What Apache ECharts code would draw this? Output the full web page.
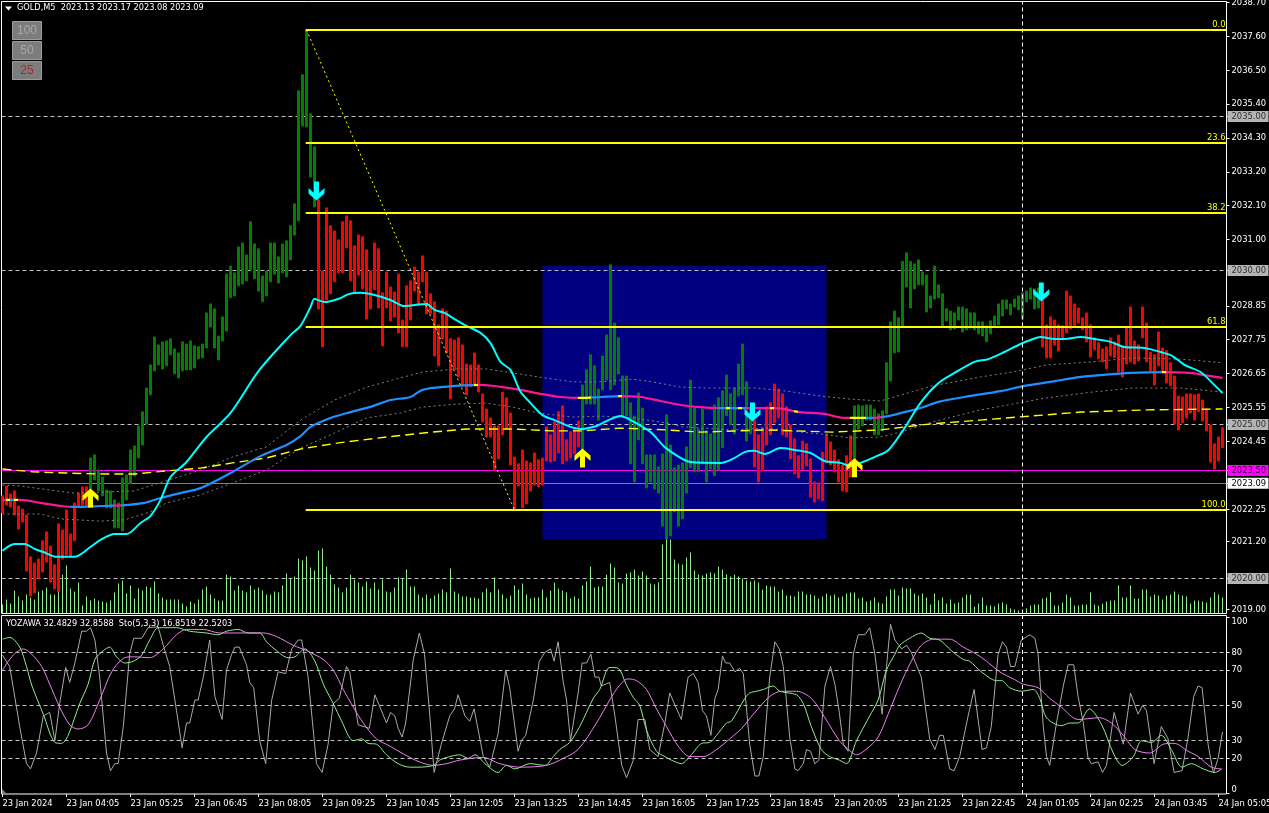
<!DOCTYPE html>
<html><head><meta charset="utf-8">
<style>html,body{margin:0;padding:0;background:#000}#c{width:1269px;height:813px}</style>
<script src="https://cdn.jsdelivr.net/npm/echarts@6/dist/echarts.min.js"></script></head>
<body><div id="c"></div><script>
const timeLabels=["23 Jan 2024","23 Jan 04:05","23 Jan 05:25","23 Jan 06:45","23 Jan 08:05","23 Jan 09:25","23 Jan 10:45","23 Jan 12:05","23 Jan 13:25","23 Jan 14:45","23 Jan 16:05","23 Jan 17:25","23 Jan 18:45","23 Jan 20:05","23 Jan 21:25","23 Jan 22:45","24 Jan 01:05","24 Jan 02:25","24 Jan 03:45","24 Jan 05:05"];
const priceTicks=[2038.70,2037.60,2036.50,2035.40,2035.00,2034.30,2033.20,2032.10,2031.00,2030.00,2028.85,2027.75,2026.65,2025.55,2025.00,2024.45,2023.50,2023.09,2022.25,2021.20,2020.00,2019.00];
const oscTicks=[100,80,70,50,30,20,0];
const gridPrices=[2035,2030,2025,2020];
const bidPrice=2023.09, alertPrice=2023.50;
const fibLevels=[["0.0",2037.81],["23.6",2034.14],["38.2",2031.87],["61.8",2028.17],["100.0",2022.22]];
const fibDiagonal=[[76,2037.81],[128,2022.22]];
const zoneBox=[[135,2030.15],[206,2021.28]];
const crosshairIndex=255;
const upRanges=[[22,78],[145,187],[213,259]];
const highs=[2022.68,2023.0,2022.74,2022.84,2022.35,2022.25,2022.06,2020.7,2020.5,2020.63,2021.22,2021.51,2021.05,2020.44,2021.77,2021.57,2022.22,2021.44,2022.45,2022.77,2022.97,2022.97,
2023.91,2024.01,2023.52,2023.29,2022.87,2022.84,2022.55,2022.45,2023.26,2023.36,2024.17,2024.3,2024.95,2025.41,2026.18,2026.93,2027.84,2027.58,2027.68,2027.71,2027.78,2027.45,2027.32,2027.68,2027.61,2027.71,2027.55,2027.52,2027.61,2028.62,2028.91,2028.75,2027.87,2028.49,2029.88,2030.14,2029.92,2030.76,2030.89,2030.5,2031.58,2030.86,2030.7,2029.82,2029.98,2030.89,2030.89,2030.44,2030.86,2030.96,2031.45,2032.16,2035.83,2036.35,2037.81,2035.08,2034.01,
2032.29,2029.98,2032.03,2031.45,2031.28,2030.99,2031.58,2031.77,2031.61,2030.8,2031.15,2031.09,2030.67,2029.98,2030.89,2030.7,2029.27,2029.95,2029.46,2029.3,2029.88,2028.39,2029.5,2029.66,2030.11,2029.95,2030.47,2029.95,2029.24,2028.98,2028.23,2028.75,2028.68,2027.78,2027.74,2027.81,2027.58,2026.96,2026.93,2027.32,2026.93,2025.99,2025.5,2025.21,2024.95,2024.95,2026.05,2025.86,2025.37,2023.94,2023.72,2024.17,2023.81,2023.75,2024.07,2023.85,2023.91,2024.92,2024.66,2025.08,2025.41,2025.6,2024.5,2024.76,2024.89,2025.11,
2026.28,2026.77,2027.26,2026.9,2026.15,2027.22,2027.9,2030.18,2028.29,2027.81,2026.57,2026.57,2025.7,2025.27,2026.02,2025.53,2024.01,2024.01,2024.01,2023.62,2024.04,2025.31,2024.33,2023.59,2023.68,2023.75,2024.27,2026.44,2025.53,2024.85,2025.5,2024.79,2024.69,2025.63,2025.86,2026.09,2026.6,2025.99,2026.18,2026.96,2027.61,2026.38,2025.47,
2025.14,2024.66,2024.89,2025.57,2025.7,2026.31,2026.15,2025.99,2025.57,2024.98,2024.53,2023.98,2024.46,2024.37,2023.88,2023.13,2023.1,2024.1,2024.69,2024.43,2024.17,2023.85,2023.68,2023.98,2024.63,
2025.6,2025.63,2025.6,2025.63,2025.63,2025.5,2025.34,2025.44,2027.0,2028.33,2028.68,2028.46,2030.29,2030.57,2030.29,2030.21,2030.34,2029.95,2029.85,2029.17,2030.14,2029.53,2029.24,2028.75,2028.68,2028.62,2028.81,2028.81,2028.75,2028.62,2028.62,2028.33,2028.33,2028.2,2028.36,2028.52,2028.91,2029.04,2029.04,2028.91,2029.07,2029.17,2029.27,2029.33,2029.43,2029.4,2029.43,
2029.04,2028.23,2028.49,2028.39,2028.23,2028.2,2029.33,2029.17,2028.91,2028.78,2028.46,2028.62,2028.23,2027.81,2027.65,2027.45,2027.52,2027.81,2027.68,2027.9,2027.55,2028.16,2028.81,2027.71,2027.58,2028.81,2028.29,2027.35,2027.26,2028.0,2027.48,2027.39,2027.0,2026.57,2025.92,2025.89,2025.99,2025.99,2025.96,2025.99,2025.79,2025.5,2024.98,2024.37,2024.59,2024.89];
const lows=[2022.13,2022.38,2022.32,2022.06,2021.6,2021.83,2020.24,2019.43,2019.53,2020.0,2020.21,2020.53,2019.88,2019.66,2019.56,2020.63,2020.76,2020.73,2021.22,2022.35,2022.38,2022.38,
2022.87,2023.2,2022.84,2022.68,2022.29,2022.29,2021.64,2021.64,2021.54,2022.55,2023.07,2023.33,2023.91,2024.33,2025.01,2025.96,2026.74,2026.93,2026.8,2026.9,2027.26,2026.64,2026.51,2026.74,2026.77,2026.77,2026.83,2027.13,2027.16,2027.48,2028.16,2027.48,2027.09,2027.71,2028.03,2029.11,2029.17,2029.5,2029.56,2029.66,2030.02,2029.73,2029.33,2028.98,2029.17,2029.63,2029.88,2029.59,2029.92,2029.79,2030.34,2031.15,2031.61,2034.69,2034.66,2033.03,2032.06,
2028.75,2027.52,2029.04,2029.24,2029.63,2029.92,2029.92,2030.73,2029.66,2029.3,2029.85,2029.4,2028.42,2028.75,2029.37,2028.78,2027.55,2028.78,2028.36,2028.49,2027.97,2027.52,2027.52,2028.39,2029.33,2028.88,2029.63,2028.59,2028.59,2027.22,2026.9,2027.78,2027.32,2025.83,2026.8,2026.54,2026.28,2025.96,2026.22,2026.28,2026.05,2025.08,2024.59,2024.59,2023.49,2023.88,2024.66,2024.88,2023.68,2022.26,2023.0,2022.29,2022.42,2022.84,2023.03,2022.97,2023.03,2023.81,2023.78,2023.81,2024.07,2023.72,2023.81,2023.91,2024.04,2024.27,
2024.17,2025.66,2025.66,2025.66,2025.14,2026.12,2026.44,2026.12,2026.28,2026.64,2025.28,2025.28,2023.72,2023.13,2024.5,2023.72,2022.94,2023.13,2022.9,2022.77,2021.7,2021.28,2021.38,2022.16,2021.7,2021.93,2022.77,2023.59,2023.46,2023.46,2023.72,2023.13,2023.55,2023.33,2023.52,2024.24,2025.28,2024.98,2024.69,2025.92,2025.96,2024.46,2024.69,
2023.62,2023.13,2023.49,2024.33,2024.66,2025.05,2025.21,2024.66,2024.59,2023.88,2023.39,2023.26,2023.52,2023.65,2022.64,2022.48,2022.58,2022.52,2023.75,2023.68,2023.46,2023.13,2022.84,2022.81,2023.29,
2023.85,2024.85,2024.95,2025.14,2025.14,2024.66,2024.66,2024.79,2025.34,2026.41,2027.32,2027.35,2028.2,2029.46,2028.78,2029.4,2029.53,2029.53,2028.65,2028.78,2029.07,2029.11,2028.2,2028.36,2028.07,2028.1,2028.39,2028.0,2028.07,2028.13,2028.07,2027.94,2027.87,2027.68,2027.94,2028.2,2028.23,2028.52,2028.75,2028.56,2028.81,2028.72,2028.42,2028.98,2029.07,2028.75,2028.78,
2027.52,2027.16,2027.16,2027.58,2027.38,2027.74,2027.97,2028.1,2028.2,2028.29,2028.07,2027.68,2027.19,2027.42,2027.13,2027.03,2026.8,2027.22,2027.16,2026.7,2026.54,2026.96,2027.03,2026.96,2027.06,2027.81,2027.03,2026.74,2026.28,2026.9,2026.7,2026.35,2026.25,2025.01,2024.82,2025.05,2025.21,2025.37,2025.14,2025.41,2025.11,2024.79,2023.78,2023.55,2023.81,2024.24];
const volumes=[9,14,10,23,17,13,19,16,14,22,23,26,19,19,36,39,48,25,22,31,8,17,13,15,13,12,11,13,21,30,33,20,28,15,25,23,27,26,32,20,16,14,14,14,14,10,7,12,10,14,24,27,19,15,13,13,39,37,23,28,23,21,28,24,26,23,19,19,22,21,28,40,35,37,55,53,57,46,43,63,
65,47,39,29,26,21,26,39,34,31,27,32,25,31,24,34,22,21,26,36,35,44,27,27,19,16,19,15,18,20,24,21,45,22,20,17,17,16,16,15,21,25,21,36,24,19,15,18,28,24,30,19,15,16,16,24,16,23,31,25,23,21,15,17,15,28,32,47,26,27,
27,39,50,46,31,30,40,41,44,38,42,38,30,29,31,69,76,74,54,50,49,56,61,43,39,38,40,41,40,47,44,39,37,39,37,35,33,32,33,31,24,28,27,27,22,24,18,18,17,22,22,19,19,18,15,17,20,18,19,16,17,20,21,21,15,16,12,13,16,11,
10,17,24,24,18,26,25,25,20,18,20,16,9,20,13,16,10,14,10,11,16,19,19,7,10,16,8,8,7,10,11,9,5,4,3,2,5,8,9,9,15,16,21,8,8,11,19,16,8,8,9,9,21,9,8,10,12,13,13,28,16,16,28,15,15,24,24,17,19,18,14,18,19,22,19,18,17,10,13,13,12,11,16,21,19,16];
const cyanMA=[[0,2020.9],[3,2021.12],[5.5,2021.12],[8,2020.96],[10.5,2020.84],[13.5,2020.7],[18,2020.7],[22,2021.02],[24.5,2021.25],[28,2021.44],[31,2021.44],[34.5,2021.8],[37,2022.03],[39.5,2022.55],[42,2023.29],[46,2023.78],[51,2024.59],[57,2025.37],[64,2026.73],[72,2027.9],[74.5,2028.2],[77,2028.81],[78,2029.07],[80.5,2028.97],[84.5,2029.1],[86.5,2029.23],[89.5,2029.27],[93,2029.2],[97,2029.04],[100.5,2028.84],[103,2028.88],[106,2028.91],[108,2028.72],[110.5,2028.62],[113,2028.42],[115.5,2028.23],[119.5,2027.97],[122,2027.64],[124.5,2027.03],[127,2026.77],[129.5,2026.06],[132,2025.7],[135,2025.3],[138,2025.14],[142,2024.92],[144.5,2024.85],[148.5,2024.95],[151.5,2025.14],[154.5,2025.27],[157,2025.14],[162,2024.75],[165.5,2024.27],[169.5,2023.91],[172,2023.78],[179.5,2023.75],[183,2023.91],[185.5,2024.1],[188,2024.14],[190.5,2024.04],[194.5,2024.23],[198,2024.17],[202,2024.07],[205.5,2023.81],[209.5,2023.75],[212,2023.65],[214.5,2023.75],[218,2023.94],[221.5,2024.17],[225.5,2024.88],[229.5,2025.7],[234,2026.34],[238,2026.67],[243,2027.03],[246.5,2027.12],[250.5,2027.35],[254.5,2027.61],[257,2027.74],[259.5,2027.84],[263,2027.77],[265.5,2027.77],[269.5,2027.84],[273,2027.77],[277,2027.68],[280.5,2027.51],[285.5,2027.48],[289.5,2027.35],[292.5,2027.22],[295.5,2026.93],[299.5,2026.7],[302.5,2026.34],[305,2026.02]];
const trendMA=[[0,2022.55],[4.5,2022.55],[9.5,2022.45],[14.5,2022.35],[18,2022.32],[24.5,2022.35],[30.5,2022.38],[35.5,2022.45],[39.5,2022.61],[44.5,2022.77],[49.5,2022.93],[57,2023.42],[64.5,2023.97],[71,2024.33],[74.5,2024.62],[77,2024.92],[82,2025.21],[87,2025.4],[92,2025.57],[97,2025.79],[102,2025.89],[105,2026.12],[110.5,2026.22],[119.5,2026.28],[124.5,2026.22],[129.5,2026.12],[134.5,2025.99],[139.5,2025.89],[144.5,2025.86],[149.5,2025.89],[154.5,2025.92],[159.5,2025.89],[164.5,2025.76],[169.5,2025.63],[174.5,2025.56],[179.5,2025.53],[187,2025.53],[193,2025.53],[199.5,2025.4],[205.5,2025.34],[210.5,2025.21],[217,2025.21],[221.5,2025.27],[225.5,2025.4],[229.5,2025.53],[234,2025.73],[240.5,2025.89],[249.5,2026.08],[255.5,2026.25],[262,2026.38],[269.5,2026.54],[274.5,2026.6],[282,2026.67],[290.5,2026.7],[297,2026.67],[300.5,2026.6],[305,2026.51]];
const trendUp=[[2,3],[17,28],[30,118],[147,154],[179,186],[216,218],[220,290]];
const trendFlip=[[1,2],[3,4],[118,119],[144,147],[154,155],[181,182],[184,185],[192,193],[198,199],[212,216],[290,291]];
const bandUpper=[[0,2023.03],[4.5,2023.0],[13.5,2022.84],[18,2022.77],[27,2022.81],[33,2022.84],[40,2023.13],[49.5,2023.52],[57.5,2023.94],[66,2024.27],[74.5,2025.14],[83,2025.79],[91,2026.21],[97.5,2026.44],[105,2026.7],[113.5,2026.8],[121,2026.8],[127.5,2026.67],[134,2026.54],[142.5,2026.38],[149.5,2026.38],[157.5,2026.47],[162.5,2026.38],[169.5,2026.21],[177,2026.18],[188.5,2026.18],[196,2026.08],[204.5,2025.92],[212,2025.82],[219.5,2025.76],[224.5,2025.95],[232.5,2026.25],[244.5,2026.54],[252.5,2026.7],[261,2026.93],[272.5,2027.03],[282.5,2027.16],[294.5,2027.12],[305,2027.0]];
const bandLower=[[0,2022.09],[9.5,2022.09],[14.5,2021.93],[24.5,2021.86],[30.5,2021.9],[37,2022.16],[41,2022.45],[49.5,2022.71],[57.5,2023.1],[66,2023.52],[74.5,2024.23],[83,2024.72],[91,2025.21],[99.5,2025.37],[105,2025.56],[113.5,2025.66],[121,2025.69],[127.5,2025.56],[134,2025.37],[142.5,2025.24],[149.5,2025.27],[157.5,2025.21],[166,2025.05],[170,2024.92],[182.5,2024.82],[191,2024.88],[199.5,2024.75],[204.5,2024.69],[212,2024.56],[219.5,2024.59],[224.5,2024.75],[232.5,2025.08],[244.5,2025.47],[252.5,2025.66],[261,2025.86],[272.5,2026.05],[282.5,2026.18],[294.5,2026.18],[305,2026.05]];
const slowMA=[[0,2023.55],[7.5,2023.46],[16,2023.42],[24.5,2023.39],[33,2023.39],[41,2023.49],[49.5,2023.58],[57.5,2023.75],[66,2023.91],[74.5,2024.2],[84,2024.4],[96,2024.59],[107.5,2024.75],[116,2024.85],[127.5,2024.85],[137.5,2024.79],[145,2024.79],[154.5,2024.88],[166,2024.82],[174.5,2024.75],[191,2024.82],[207.5,2024.75],[219.5,2024.82],[231.5,2025.01],[244.5,2025.14],[257,2025.27],[269.5,2025.4],[286,2025.47],[305,2025.5]];
const upArrows=[[22,2022.61],[145,2023.91],[213,2023.59]];
const downArrows=[[78.5,2032.58],[187.5,2025.4],[259.7,2029.3]];
const yozawa=[[0,78.5],[1.8,72],[4.3,38],[6,17],[7,14],[8.5,23],[10.2,44],[11.8,46],[13.1,30],[14.3,51],[15.8,71.5],[16.8,63],[18.1,74],[19.8,92],[21,92],[22,94],[23.1,87],[24.3,66],[26,23],[27,13],[28.1,17],[28.9,17],[30.2,38],[31.8,79],[32.8,88],[34.8,88],[36.4,94],[38.9,94.5],[40.2,84],[41.8,72],[43.5,47],[44.9,26],[46,40],[46.8,40],[48.1,53],[48.9,53],[50.2,66],[51.8,87],[53.1,55],[54.9,42],[56,70],[57.3,79],[58.1,83],[59.2,83],[61,73],[61.8,63],[62.8,60],[64.3,30],[65.8,17],[67.3,53],[68.9,69],[70.8,68],[72.3,82],[73.9,87],[74.8,87],[76.4,66],[78.5,17],[79.9,12],[81.4,28],[82.7,51],[84.2,54],[86,72],[86.8,69],[88.9,39],[91.7,37],[93.1,56],[96,40],[97,46],[98.1,44],[98.9,37],[99.9,32],[100.8,40],[102.7,76],[104.2,91],
[105.5,79],[106.8,45],[107.9,12],[109.7,28],[111.8,44],[113,48],[113.9,56],[115.6,44],[116.8,41],[117.9,48],[120.2,21],[121.8,15],[123.9,34],[125.8,70],[126.8,60],[128.9,24],[129.7,30],[130.8,33],[132.7,53],[134.2,75],[135.6,80],[137,82],[137.9,75],[138.9,86],[140.2,63],[141,53],[142,30],[143.9,57],[144.9,74],[146,74],[147.1,79],[148.1,66],[149.1,66],[149.7,61],[151.8,63],[153.1,44],[154.8,16],[156,9],[157.7,19],[158.9,42],[160.6,42],[161.8,25],[163.9,21],[165.6,40],[166.8,57],[169.7,42],[171.4,66],[172.7,68],[173.9,63],[175,47],[176,44],[177.1,33],[178.1,54],[178.9,59],[180,78],[180.8,74],[181.8,74],[183.1,69],[184.3,71],[185.2,68],[186.8,28],[188.1,10],[189.1,10],[190.2,21],[191.8,66],[193.1,86],[194.2,82],[195.2,72],[196.8,32],[198.1,14],[198.9,13],[200.2,17],[201,25],[202,24],[203.1,17],[204.1,19],[205.6,61],[207,72],[208.1,62],[209.2,46],
[210.2,28],[211.4,24],[212.7,79],[213.9,90],[215.6,90],[216.8,94],[218.1,79],[219.9,45],[221,72],[222,96],[223.1,87],[224.8,82],[226,84],[227.2,80],[229.7,66],[231.8,31],[233.1,25],[234.3,33],[235.2,33],[236.8,14],[237.9,13],[239.3,21],[241.4,44],[242.9,59],[244.9,25],[246,26],[247.2,38],[248.9,79],[250,86],[251,83],[252,72],[253.1,72],[254.7,87],[256.8,90],[258.1,88],[258.9,79],[260.2,38],[261,21],[261.8,16],[263.5,40],[265.2,61],[266.4,73],[267.8,73],[268.9,55],[270.2,40],[271.4,20],[272.2,17],[273.9,18],[275,12],[276,16],[277.9,46],[280.2,28],[282,57],[283.9,45],[285,50],[286,47],[287.9,17],[289.7,38],[291.4,31],[292.9,12],[294.9,13],[296.4,32],[297.8,55],[298.9,61],[299.9,60],[301.4,28],[302.5,14],[302.8,12],[303.9,20],[305,35]];
const stoMain=[[0,87.5],[1.8,88.5],[4.3,83],[6,72],[7.3,61.5],[10.2,45],[13.1,29],[14.8,28.5],[16.4,33],[19.3,51],[21.4,62],[23.1,76],[25.2,81],[26.8,83],[28.5,77.5],[30.6,74],[32.7,75],[34.8,78.5],[36.8,87],[38.9,94],[40.6,94],[43.5,94],[46.8,92],[51,91],[53.9,90],[56,92],[58.9,93],[61.4,91],[64.3,91],[66,86],[68.5,81],[71.4,77],[73.1,77.5],[75.6,82],[78.1,75],[80.2,62],[82.7,51],[84.8,41],[87.7,30],[89.8,31],[91.4,28.5],[93.5,28],[96,22],[98.9,17],[101.8,15],[103.9,15],
[107.7,16],[109.3,19],[111.8,21],[114.3,22],[116.4,20],[118.1,22],[120.6,17],[123.9,12],[126,16],[128.1,14],[131.8,17],[135.6,16],[137.7,21],[139.3,25],[141.8,29],[144.3,38],[147.7,54],[149.3,59],[151.8,71.5],[153.9,71],[156,61.5],[157.7,54.5],[159.3,50],[161,36],[163.5,24],[165.6,21],[167.2,19],[169.7,17],[172.2,22],[174.8,28.5],[176.8,29],[178.5,33],[181,40],[182.2,41],[185.6,54],[186.8,57],[188.5,58],[190.2,59],[192.7,61],[194.3,58],[198.5,56],[200.2,51],[202.2,38],[204.7,25],[206.8,21],[209.2,19],
[211,17],[213.5,30],[216.8,44],[218.9,53],[221,70],[223.1,79],[224.3,84],[226.8,88],[229.7,91],[231.8,88],[234.3,87],[237.2,81],[240.2,76],[241.8,75],[244.7,69],[248.5,64],[249.8,64],[251.8,60],[254.7,58],[257.7,59],[259.3,54],[261,43],[264.7,38.5],[266.8,40],[268.9,40],[271.7,48],[274.8,39],[277.7,23],[279.9,16],[282.7,21],[284.8,30],[287.2,29],[289.7,33],[292.2,25],[294.9,15],[297.2,17],[300.2,14],[303.1,12],[304.8,14]];
const stoSignal=[[0,70],[2.7,78.5],[5.2,82],[7.3,79],[9.8,72],[11.8,62],[14.3,49],[16.8,39],[18.9,36.6],[21.4,39],[24.3,53],[27.3,69],[30.2,76.6],[32.7,77.5],[36.8,77],[40.2,82],[43.5,90],[46,93],[50.2,93],[54.3,91],[59.3,91],[65.2,91],[68.5,89],[72.7,84],[76,81],[80.2,76],[82.7,70],[85.2,59],[87.7,49],[90.2,40],[93.5,31],[96.8,27],[100.2,22.5],[104.2,18],
[107.7,16],[111,17],[114.3,19],[120.2,20.5],[124.3,17],[129.3,15],[136,16],[140.2,20],[143.9,25],[148.5,40],[151.8,53],[154.3,61.5],[156.4,65],[158.5,64],[161,59],[163.5,48],[166,38],[168.9,27],[171.8,21],[175.2,21],[178.5,25],[181.8,31],[184.8,37],[187.7,45],[191.8,55],[194.7,58],[198.5,58],[202.2,54],[205.6,43],[209.2,30],
[211,26],[213.5,22],[216.4,26],[218.9,32],[221.4,45],[224.3,61],[227.2,75],[229.7,84],[232.7,87.5],[236.8,87.5],[240.2,83],[243.5,79],[246,75],[249.3,69],[252.7,65],[255.2,62],[258.9,60],[261.8,54],[264.7,49],[268.9,42],[274.3,43],[277.2,40],[280.2,33],[283.1,25],[286.8,23],[290.2,28],[292.9,28.5],[296.4,24],[298.9,21],[302.2,15],[304.8,14]];

const FONT='"DejaVu Sans Condensed","Liberation Sans",sans-serif', FS=9.3;
const BLUE='#1e90ff', PINK='#ff1493', YEL='#ffff00';
const isUp=i=>upRanges.some(r=>i>=r[0]&&i<=r[1]);
const candles=highs.map((h,i)=>isUp(i)?[i,lows[i],h,lows[i],h]:[i,h,lows[i],lows[i],h]);
const volBars=volumes.map((v,i)=>[i,v]);
const tickIdx=timeLabels.map((_,k)=>k*16);
const arrow='path://M8 0L16 7L16 12.5L10.5 7.5L10.5 19L5.5 19L5.5 7.5L0 12.5L0 7Z';

const marks=[...new Set([0,306,...trendUp.flat(),...trendFlip.flat()])].sort((a,b)=>a-b);
const pieces=[];
for(let k=0;k<marks.length-1;k++){
  const a=marks[k],b=marks[k+1],mid=(a+b)/2;
  const flip=trendFlip.some(r=>mid>=r[0]&&mid<=r[1]);
  const up=trendUp.some(r=>mid>=r[0]&&mid<=r[1]);
  pieces.push({gte:a,lt:b,color:flip?YEL:(up?BLUE:PINK)});
}
const boxes={'2035.00':'gray','2030.00':'gray','2025.00':'gray','2020.00':'gray','2023.50':'mag','2023.09':'wht'};
const lineBase=(name,data,color,width,type,z,extra)=>Object.assign({name,type:'line',data,xAxisIndex:0,yAxisIndex:0,showSymbol:false,symbol:'none',silent:true,animation:false,z:z,
  lineStyle:Object.assign({width,type},color?{color}:{})},extra||{});
const ML=(data,extra)=>Object.assign({silent:true,symbol:'none',animation:false,label:{show:false},data},extra||{});

const series=[
 {name:'bars',type:'candlestick',data:candles,encode:{x:0,y:[1,2,3,4]},xAxisIndex:0,yAxisIndex:0,barWidth:2,silent:true,animation:false,z:2,
  itemStyle:{color:'#008000',color0:'#ff0000',borderColor:'#008000',borderColor0:'#ff0000',borderWidth:1}},
 {name:'volume',type:'bar',data:volBars,xAxisIndex:0,yAxisIndex:1,barWidth:1,silent:true,animation:false,z:2,itemStyle:{color:'#90ee90'}},
 lineBase('bandUpper',bandUpper,'#808080',1,[2,3],3,{markArea:{silent:true,animation:false,z:1,itemStyle:{color:'#000080',opacity:1},data:[[{coord:zoneBox[0]},{coord:zoneBox[1]}]]}}),
 lineBase('bandLower',bandLower,'#808080',1,[2,3],3,{markLine:ML(gridPrices.map(p=>({yAxis:p})),{z:1.5,lineStyle:{color:'#c0c0c0',width:1,type:[4,3]}})}),
 lineBase('slowMA',slowMA,YEL,1.4,[9,5],3,{markLine:ML([{xAxis:crosshairIndex}],{z:5,lineStyle:{color:'#fff',width:1,type:[4,3]}})}),
 lineBase('trendMA',trendMA,null,2.2,'solid',3,{smooth:0.3}),
 lineBase('cyanMA',cyanMA,'#00ffff',2,'solid',4,{smooth:0.3,markLine:ML([{yAxis:alertPrice,lineStyle:{color:'#ff00ff',width:1,type:'solid'}},{yAxis:bidPrice,lineStyle:{color:'#808080',width:1,type:'solid'}}],{z:1.6})}),
 lineBase('fibLine',fibDiagonal,YEL,1,[2,3],4,{markLine:{silent:true,symbol:'none',animation:false,z:5,lineStyle:{color:YEL,width:2,type:'solid'},
   data:fibLevels.map(l=>[{coord:[75.8,l[1]],name:l[0]},{coord:[306,l[1]]}]),
   label:{show:true,position:'insideEndTop',formatter:p=>p.name,color:YEL,fontFamily:FONT,fontSize:FS,distance:[1,1]}}}),
 {name:'buy',type:'scatter',data:upArrows,xAxisIndex:0,yAxisIndex:0,symbol:arrow,symbolSize:[16,19],silent:true,animation:false,z:6,itemStyle:{color:YEL,opacity:1}},
 {name:'sell',type:'scatter',data:downArrows,xAxisIndex:0,yAxisIndex:0,symbol:arrow,symbolRotate:180,symbolSize:[16,19],silent:true,animation:false,z:6,itemStyle:{color:'#00ffff',opacity:1}},
 {name:'YOZAWA',type:'line',data:yozawa,xAxisIndex:1,yAxisIndex:2,showSymbol:false,symbol:'none',silent:true,animation:false,z:3,lineStyle:{color:'#a9a9a9',width:1},
  markLine:ML(oscTicks.filter(v=>v>0&&v<100).map(v=>({yAxis:v})),{z:1.5,lineStyle:{color:'#c0c0c0',width:1,type:[4,3]}})},
 {name:'StoMain',type:'line',data:stoMain,xAxisIndex:1,yAxisIndex:2,showSymbol:false,symbol:'none',smooth:0.3,silent:true,animation:false,z:3,lineStyle:{color:'#90ee90',width:1},
  markLine:ML([{xAxis:crosshairIndex}],{z:5,lineStyle:{color:'#fff',width:1,type:[4,3]}})},
 {name:'StoSignal',type:'line',data:stoSignal,xAxisIndex:1,yAxisIndex:2,showSymbol:false,symbol:'none',smooth:0.3,silent:true,animation:false,z:3,lineStyle:{color:'#ee82ee',width:1}}
];
const btn=(y,t,c)=>[{type:'rect',shape:{x:12.5,y:y+.5,width:29,height:18},style:{fill:'#7c7c7c',stroke:'#9c9c9c',lineWidth:1},z:20},
 {type:'text',x:27,y:y+4,style:{text:t,fill:c,font:'12px "Liberation Sans"',textAlign:'center'},z:21}];
const richBox=(bg,fg)=>({color:fg,backgroundColor:bg,fontFamily:FONT,fontSize:FS,width:37,height:11,lineHeight:11,padding:[0,0,0,4]});
const option={
 backgroundColor:'#000',animation:false,
 textStyle:{fontFamily:FONT},
 grid:[{left:1.5,top:1.5,width:1225,height:612,show:true,borderColor:'#fff',borderWidth:1,backgroundColor:'#000',outerBoundsMode:'none'},
       {left:1.5,top:615.5,width:1225,height:178.5,show:true,borderColor:'#fff',borderWidth:1,backgroundColor:'#000',outerBoundsMode:'none'}],
 xAxis:[{type:'value',gridIndex:0,min:-0.25,max:306,show:false,splitLine:{show:false},axisLine:{onZero:false}},
        {type:'value',gridIndex:1,min:-0.25,max:306,splitLine:{show:false},axisLine:{show:false,onZero:false},
         axisTick:{show:true,length:3,customValues:tickIdx,lineStyle:{color:'#fff'}},
         axisLabel:{customValues:tickIdx,formatter:v=>timeLabels[Math.round(v/16)],align:'left',color:'#fff',fontFamily:FONT,fontSize:FS,margin:5,showMinLabel:true,showMaxLabel:true,hideOverlap:false}}],
 yAxis:[{type:'value',gridIndex:0,position:'right',min:2018.86,max:2038.73,splitLine:{show:false},axisLine:{show:false,onZero:false},
         axisTick:{show:true,length:3,customValues:priceTicks,lineStyle:{color:'#fff'}},
         axisLabel:{customValues:priceTicks,hideOverlap:false,margin:1,align:'left',color:'#fff',
          formatter:v=>{const s=(+v).toFixed(2);return '{'+(boxes[s]||'std')+'|'+s+'}';},
          rich:{std:{color:'#fff',fontFamily:FONT,fontSize:FS,padding:[0,0,0,4]},
                gray:richBox('#b4b4b4','#303030'),mag:richBox('#ff00ff','#300030'),wht:richBox('#fff','#000')}}},
        {type:'value',gridIndex:0,min:0,max:612,show:false,splitLine:{show:false},axisLine:{onZero:false}},
        {type:'value',gridIndex:1,position:'right',min:-0.2,max:100.9,splitLine:{show:false},axisLine:{show:false,onZero:false},
         axisTick:{show:true,length:3,customValues:oscTicks,lineStyle:{color:'#fff'}},
         axisLabel:{customValues:oscTicks,margin:5,align:'left',color:'#fff',fontFamily:FONT,fontSize:FS,hideOverlap:false,verticalAlignMaxLabel:'bottom',verticalAlignMinLabel:'top'}}],
 visualMap:[{type:'piecewise',show:false,seriesIndex:5,dimension:0,pieces}],
 series,
 graphic:[
  {type:'polygon',shape:{points:[[5,6.5],[12,6.5],[8.5,10.5]]},style:{fill:'#fff'},z:20},
  {type:'text',x:17,y:3,style:{text:'GOLD,M5  2023.13 2023.17 2023.08 2023.09',fill:'#fff',font:'9.1px '+FONT},z:20},
  {type:'text',x:6,y:619,style:{text:'YOZAWA 32.4829 32.8588  Sto(5,3,3) 16.8519 22.5203',fill:'#fff',font:'9.1px '+FONT},z:20},
  {type:'polygon',shape:{points:[[2,789],[2,794],[7,794]]},style:{fill:'#808080'},z:20},
  ...btn(21,'100','#a9a9a9'),...btn(41,'50','#a9a9a9'),...btn(61,'25','#a52a2a')
 ]
};
const chart=echarts.init(document.getElementById('c'),null,{renderer:'canvas'});
chart.setOption(option);
</script></body></html>
